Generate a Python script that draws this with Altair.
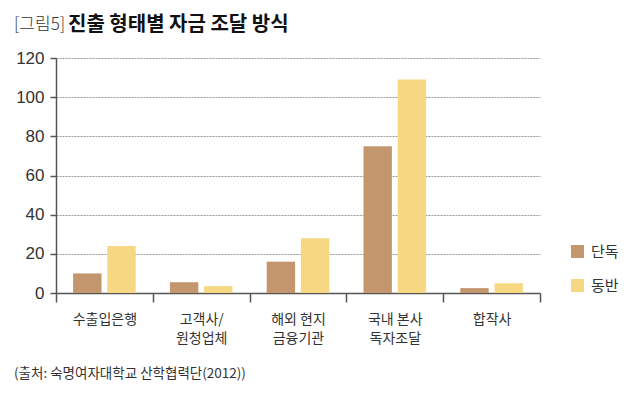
import altair as alt
import pandas as pd

categories = ["수출입은행", "고객사/|원청업체", "해외 현지|금융기관", "국내 본사|독자조달", "합작사"]
series = ["단독", "동반"]
solo = [10, 5.5, 16, 75, 2.5]
joint = [24, 3.5, 28, 109, 5]
colors = ["#C4966E", "#F6D882"]
y_ticks = [0, 20, 40, 60, 80, 100, 120]

rows = []
for c, a, b in zip(categories, solo, joint):
    rows.append({"cat": c, "series": series[0], "value": a})
    rows.append({"cat": c, "series": series[1], "value": b})
df = pd.DataFrame(rows)

KR = "Noto Sans CJK KR"
NUM = "Liberation Sans Narrow, Liberation Sans, Arial"

bars = alt.Chart(df).mark_bar().encode(
    x=alt.X("cat:N", sort=categories, title=None,
            scale=alt.Scale(paddingInner=0, paddingOuter=0),
            axis=alt.Axis(labelExpr="split(datum.label, '|')", labelAngle=0,
                          tickBand="extent", tickSize=9, tickColor="#555",
                          domainColor="#555", domainWidth=1.5, tickWidth=1.5,
                          labelFont=KR, labelFontSize=14, labelColor="#333",
                          labelLineHeight=19, labelPadding=10, grid=False)),
    xOffset=alt.XOffset("series:N", sort=series,
                        scale=alt.Scale(paddingInner=0.17, paddingOuter=0.5)),
    y=alt.Y("value:Q", title=None,
            scale=alt.Scale(domain=[0, 120], nice=False),
            axis=alt.Axis(values=y_ticks, tickSize=6, tickColor="#555",
                          domainColor="#555", domainWidth=1.5, tickWidth=1.5,
                          labelFont=NUM, labelFontSize=17, labelColor="#333",
                          labelPadding=6, grid=True, gridColor="#999",
                          gridDash=[2, 1], gridWidth=1)),
    color=alt.Color("series:N", sort=series,
                    scale=alt.Scale(domain=series, range=colors),
                    legend=alt.Legend(title=None, orient="none", legendX=514, legendY=186,
                                      symbolType="square", symbolSize=169,
                                      symbolStrokeWidth=0, labelFont=KR, labelFontSize=15,
                                      labelColor="#333", rowPadding=18, labelOffset=6)),
)

title_df = pd.DataFrame({"a": ["[그림5]"], "b": ["진출 형태별 자금 조달 방식"],
                         "s": ["(출처: 숙명여자대학교 산학협력단(2012))"]})

t1 = alt.Chart(title_df).mark_text(align="left", baseline="middle", font=KR,
                                   fontSize=17, fontWeight=300, color="#333").encode(
    text="a:N", x=alt.value(-42), y=alt.value(-33))
t2 = alt.Chart(title_df).mark_text(align="left", baseline="middle", font=KR,
                                   fontSize=20, fontWeight="bold", color="#111").encode(
    text="b:N", x=alt.value(12), y=alt.value(-33))
src = alt.Chart(title_df).mark_text(align="left", baseline="middle", font=KR,
                                    fontSize=13.5, color="#333").encode(
    text="s:N", x=alt.value(-42), y=alt.value(316))

chart = alt.layer(bars, t1, t2, src).properties(
    width=484, height=235,
    autosize=alt.AutoSizeParams(type="none"),
    padding={"left": 48, "top": 50, "right": 90, "bottom": 90},
).configure_view(stroke=None)

chart.save("out.html", embed_options={"renderer": "svg", "actions": False})
